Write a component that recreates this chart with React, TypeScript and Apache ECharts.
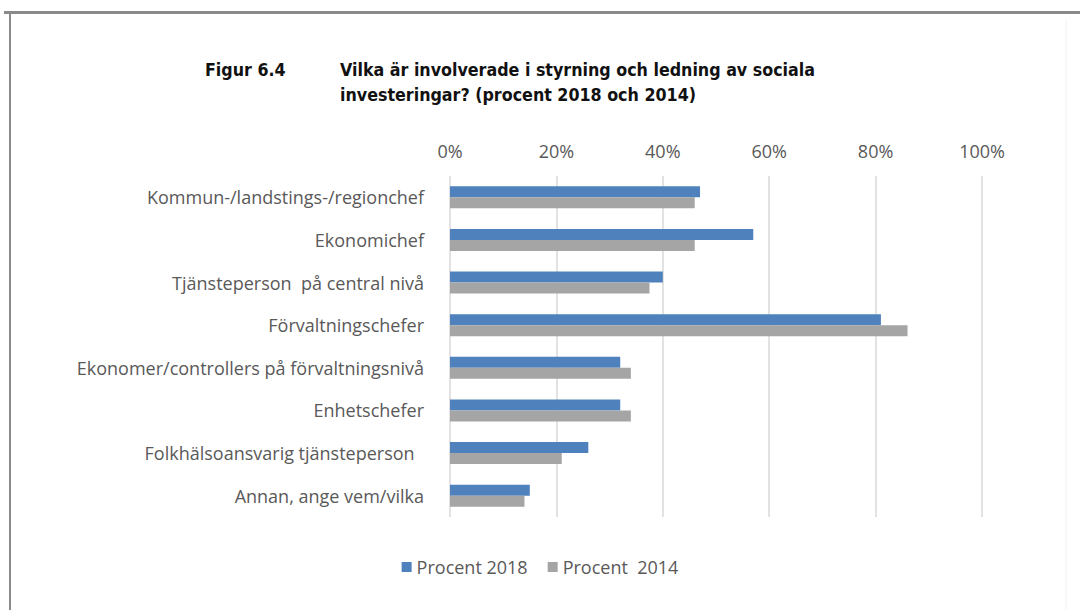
import React, { useEffect, useRef } from "react";
import * as echarts from "echarts";

const categories = [
  "Kommun-/landstings-/regionchef",
  "Ekonomichef",
  "Tjänsteperson  på central nivå",
  "Förvaltningschefer",
  "Ekonomer/controllers på förvaltningsnivå",
  "Enhetschefer",
  "Folkhälsoansvarig tjänsteperson  ",
  "Annan, ange vem/vilka",
];
const values2018 = [47, 57, 40, 81, 32, 32, 26, 15];
const values2014 = [46, 46, 37.5, 86, 34, 34, 21, 14];
const seriesNames = ["Procent 2018", "Procent  2014"];
const titleLine1 = "Vilka är involverade i styrning och ledning av sociala";
const titleLine2 = "investeringar? (procent 2018 och 2014)";
const figureLabel = "Figur 6.4";

export default function App() {
  const ref = useRef<HTMLDivElement>(null);
  useEffect(() => {
    if (!ref.current) return;
    const chart = echarts.init(ref.current, null, { renderer: "svg" });
    const labelFont = "'Open Sans', Lato, sans-serif";
    const titleFont = "'Liberation Sans Narrow', 'DejaVu Sans Condensed', sans-serif";
    chart.setOption({
      animation: false,
      backgroundColor: "#ffffff",
      graphic: [
        { type: "line", shape: { x1: 4, y1: 12.5, x2: 1080, y2: 12.5 }, style: { stroke: "#8a8a8a", lineWidth: 3 } },
        { type: "line", shape: { x1: 10, y1: 12, x2: 10, y2: 610 }, style: { stroke: "#8a8a8a", lineWidth: 2 } },
        { type: "line", shape: { x1: 1066, y1: 20, x2: 1066, y2: 610 }, style: { stroke: "#f2f2f2", lineWidth: 1 } },
        {
          type: "text",
          left: 205,
          top: 61,
          style: { text: figureLabel, font: `bold 17.7px ${titleFont}`, fill: "#111" },
        },
        {
          type: "text",
          left: 340,
          top: 61,
          style: { text: titleLine1, font: `bold 17.7px ${titleFont}`, fill: "#111" },
        },
        {
          type: "text",
          left: 340,
          top: 86,
          style: { text: titleLine2, font: `bold 17.7px ${titleFont}`, fill: "#111" },
        },
      ],
      legend: {
        data: seriesNames,
        top: 553,
        left: "center",
        itemWidth: 10,
        itemHeight: 10,
        itemGap: 20,
        icon: "rect",
        textStyle: { color: "#595959", fontSize: 18, fontFamily: labelFont },
      },
      grid: { left: 450, right: 98, top: 176, height: 341 },
      xAxis: {
        type: "value",
        position: "top",
        min: 0,
        max: 100,
        interval: 20,
        axisLine: { show: false },
        axisTick: { show: false },
        axisLabel: {
          formatter: "{value}%",
          color: "#595959",
          fontSize: 18,
          fontFamily: labelFont,
          margin: 16,
        },
        splitLine: { show: true, lineStyle: { color: "#d9d9d9", width: 1.5 } },
      },
      yAxis: {
        type: "category",
        inverse: true,
        data: categories,
        axisLine: { show: false },
        axisTick: { show: false },
        axisLabel: {
          color: "#595959",
          fontSize: 18,
          fontFamily: labelFont,
          margin: 26,
        },
      },
      series: [
        {
          name: seriesNames[0],
          type: "bar",
          data: values2018,
          barWidth: 11,
          barGap: "0%",
          itemStyle: { color: "#4F81BD" },
        },
        {
          name: seriesNames[1],
          type: "bar",
          data: values2014,
          barWidth: 11,
          barGap: "0%",
          itemStyle: { color: "#A5A5A5" },
        },
      ],
    });
    return () => chart.dispose();
  }, []);
  return (
    <div
      ref={ref}
      style={{ position: "fixed", left: 0, top: 0, width: 1080, height: 610 }}
    />
  );
}
